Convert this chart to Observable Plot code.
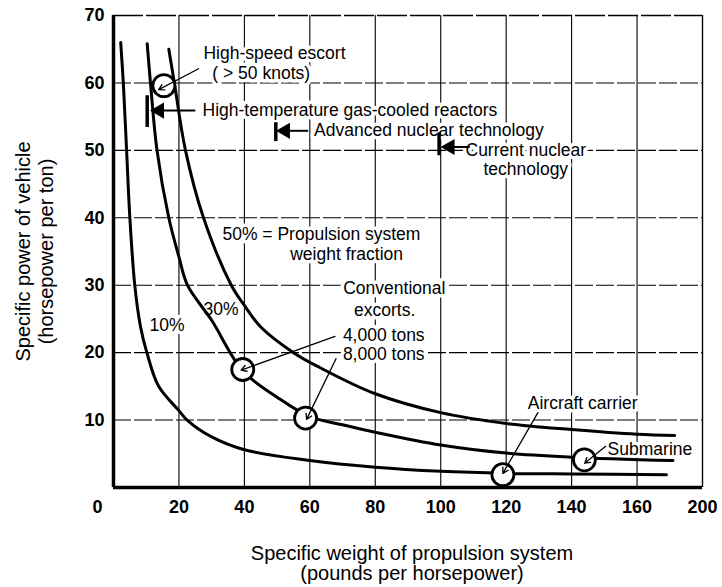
<!DOCTYPE html>
<html><head><meta charset="utf-8">
<script src="https://cdn.jsdelivr.net/npm/d3@7"></script>
<script src="https://cdn.jsdelivr.net/npm/@observablehq/plot@0.6"></script>
<style>
html,body{margin:0;padding:0;background:#fff;}
#chart{width:722px;height:587px;overflow:hidden}
</style></head><body><div id="chart"></div>
<script>
// ---- data ----
const xTickPos = [-4.9, 20, 40, 60, 80, 100, 120, 140, 160, 180];
const xTickLabels = ["0", "20", "40", "60", "80", "100", "120", "140", "160", "200"];
const yTicks = [10, 20, 30, 40, 50, 60, 70];
const gridX = [20, 40, 60, 80, 100, 120, 140, 160];
const gridY = [10, 20, 30, 40, 50, 60];

const seriesNames = ["10%", "30%", "50%"];
const x10 = [2.2, 3, 4, 5, 6.5, 8.2, 10.2, 13.8, 20, 22.5, 30, 40, 60, 80, 100, 120, 140, 169];
const y10 = [66, 60, 50, 40, 30, 24, 20, 15, 11.4, 10, 7.5, 5.6, 4.0, 3.0, 2.4, 2.1, 2.0, 1.9];
const x30 = [10.3, 11.3, 13.3, 16.9, 20, 22.6, 30, 39.5, 50, 60, 70, 80, 100, 120, 140, 171];
const y30 = [65.8, 60, 50, 40, 34.2, 30, 24.8, 17.3, 13.4, 10.5, 9.3, 8.2, 6.3, 5.1, 4.5, 4.0];
const x50 = [16.9, 18.6, 22, 27.5, 36, 40, 45, 55, 63, 80, 100, 120, 140, 160, 171.5];
const y50 = [65, 60, 50, 40, 30, 27, 23.8, 20, 17.8, 13.9, 11.1, 9.5, 8.6, 7.9, 7.7];

// vessels (circled points) and their pointer arrows
const vesselNames = ["High-speed escort", "Conventional 4,000 tons", "Conventional 8,000 tons", "Aircraft carrier", "Submarine"];
const vesselX = [15.4, 39.5, 58.7, 119, 143.9];
const vesselY = [59.6, 17.5, 10.3, 1.9, 4.1];
const pointerFromX = [26.0, 67.7, 68.0, 129.7, 150.4];
const pointerFromY = [62.1, 22.4, 19.1, 11.1, 6.1];
const pointerToX = [13.8, 39.0, 59.0, 119.0, 144.0];
const pointerToY = [59.0, 17.4, 10.1, 2.1, 3.6];

// reactor technology markers
const techNames = ["High-temperature gas-cooled reactors", "Advanced nuclear technology", "Current nuclear technology"];
const techX = [10.3, 49.6, 99.5];
const techYTop = [58.1, 54.1, 52.6];
const techYBottom = [53.4, 51.3, 49.2];
const techArrowY = [55.9, 52.9, 50.5];
const techArrowTail = [25.0, 59.5, 108.9];
const techHeadX = [14.0, 52.5, 102.8];

// annotation texts (left-anchored)
const labelTexts = ["High-speed escort", "( > 50 knots)", "High-temperature gas-cooled reactors",
  "Advanced nuclear technology", "50% = Propulsion system",
  "weight fraction", "30%", "10%", "Conventional", "excorts.", "4,000 tons", "8,000 tons",
  "Aircraft carrier", "Submarine"];
const labelX = [27.5, 30.2, 27.2, 61.3, 33.3, 54.0, 27.5, 11.0, 70.2, 73.5, 70.1, 70.1, 126.6, 151.0];
const labelY = [64.4, 61.4, 55.9, 52.95, 37.5, 34.6, 26.4, 24.0, 29.5, 26.2, 22.5, 19.7, 12.5, 5.6];
// centred two-line annotation
const centredTexts = ["Current nuclear\ntechnology"];
const centredX = [126.0];
const centredY = [48.6];

const xTitle = ["Specific weight of propulsion system", "(pounds per horsepower)"];
const yTitle = ["Specific power of vehicle", "(horsepower per ton)"];

// ---- tables ----
const curveRows = [];
[[x10, y10], [x30, y30], [x50, y50]].forEach(([xs, ys], k) =>
  xs.forEach((x, i) => curveRows.push({s: seriesNames[k], x, y: ys[i]})));
const vessels = vesselNames.map((n, i) => ({n, x: vesselX[i], y: vesselY[i],
  x1: pointerFromX[i], y1: pointerFromY[i], x2: pointerToX[i], y2: pointerToY[i]}));
const techs = techNames.map((n, i) => ({n, x: techX[i], yt: techYTop[i], yb: techYBottom[i],
  ay: techArrowY[i], tail: techArrowTail[i], head: techHeadX[i]}));
const labels = labelTexts.map((t, i) => ({t, x: labelX[i], y: labelY[i]}));
const centred = centredTexts.map((t, i) => ({t, x: centredX[i], y: centredY[i]}));
const xTicks = xTickPos.map((p, i) => ({p, t: xTickLabels[i]}));

const font = "'Liberation Sans', Arial, Helvetica, sans-serif";
const annSize = 17.5;

const chart = Plot.plot({
  width: 722, height: 587,
  marginLeft: 113, marginRight: 20, marginTop: 15, marginBottom: 100,
  x: {domain: [0, 180], axis: null},
  y: {domain: [0, 70]},
  style: {fontFamily: font, background: "white", color: "black"},
  marks: [
    Plot.ruleX(gridX, {stroke: "black", strokeWidth: 1.1}),
    Plot.ruleY(gridY, {stroke: "black", strokeWidth: 1.1, strokeDasharray: "18,3"}),
    Plot.ruleY([70], {stroke: "black", strokeWidth: 1.4, strokeDasharray: "30,3"}),
    Plot.ruleX([180], {stroke: "black", strokeWidth: 1.4}),
    // labels with white halo (mask the grid behind them)
    Plot.text(labels, {x: "x", y: "y", text: "t", textAnchor: "start", fontSize: annSize,
      fill: "black", stroke: "white", strokeWidth: 7}),
    Plot.text(centred, {x: "x", y: "y", text: "t", textAnchor: "middle", fontSize: annSize, lineHeight: 1.08,
      fill: "black", stroke: "white", strokeWidth: 7}),
    Plot.line(curveRows, {x: "x", y: "y", z: "s", curve: "catmull-rom", stroke: "black", strokeWidth: 3}),
    // technology markers
    Plot.ruleX(techs, {x: "x", y1: "yb", y2: "yt", stroke: "black", strokeWidth: 3.5}),
    Plot.link(techs, {x1: "tail", x2: "head", y1: "ay", y2: "ay", stroke: "black", strokeWidth: 2}),
    Plot.dot(techs, {x: "head", y: "ay", symbol: "triangle", rotate: -90, r: 6, fill: "black", stroke: "none"}),
    // circled vessels
    Plot.dot(vessels, {x: "x", y: "y", r: 11, fill: "white", stroke: "black", strokeWidth: 2.8}),
    Plot.arrow(vessels, {x1: "x1", y1: "y1", x2: "x2", y2: "y2", stroke: "black", strokeWidth: 1.3, headLength: 7}),
    // frame
    Plot.ruleX([0], {stroke: "black", strokeWidth: 3.5}),
    Plot.ruleY([0], {stroke: "black", strokeWidth: 3.5}),
    // axes
    Plot.axisY(yTicks, {tickSize: 0, tickPadding: 9, fontSize: 18, fontWeight: "bold", label: null}),
    Plot.text(xTicks, {x: "p", text: "t", frameAnchor: "bottom", lineAnchor: "middle", dy: 20, fontSize: 18, fontWeight: "bold"}),
    Plot.text([xTitle[0]], {frameAnchor: "bottom", lineAnchor: "middle", textAnchor: "middle", dy: 66, dx: 4, fontSize: 20}),
    Plot.text([xTitle[1]], {frameAnchor: "bottom", lineAnchor: "middle", textAnchor: "middle", dy: 86, dx: 4, fontSize: 20}),
    Plot.text([yTitle[0]], {frameAnchor: "left", textAnchor: "middle", lineAnchor: "middle", rotate: -90, dx: -90, fontSize: 20}),
    Plot.text([yTitle[1]], {frameAnchor: "left", textAnchor: "middle", lineAnchor: "middle", rotate: -90, dx: -67, fontSize: 20})
  ]
});
document.getElementById("chart").appendChild(chart);
</script></body></html>
